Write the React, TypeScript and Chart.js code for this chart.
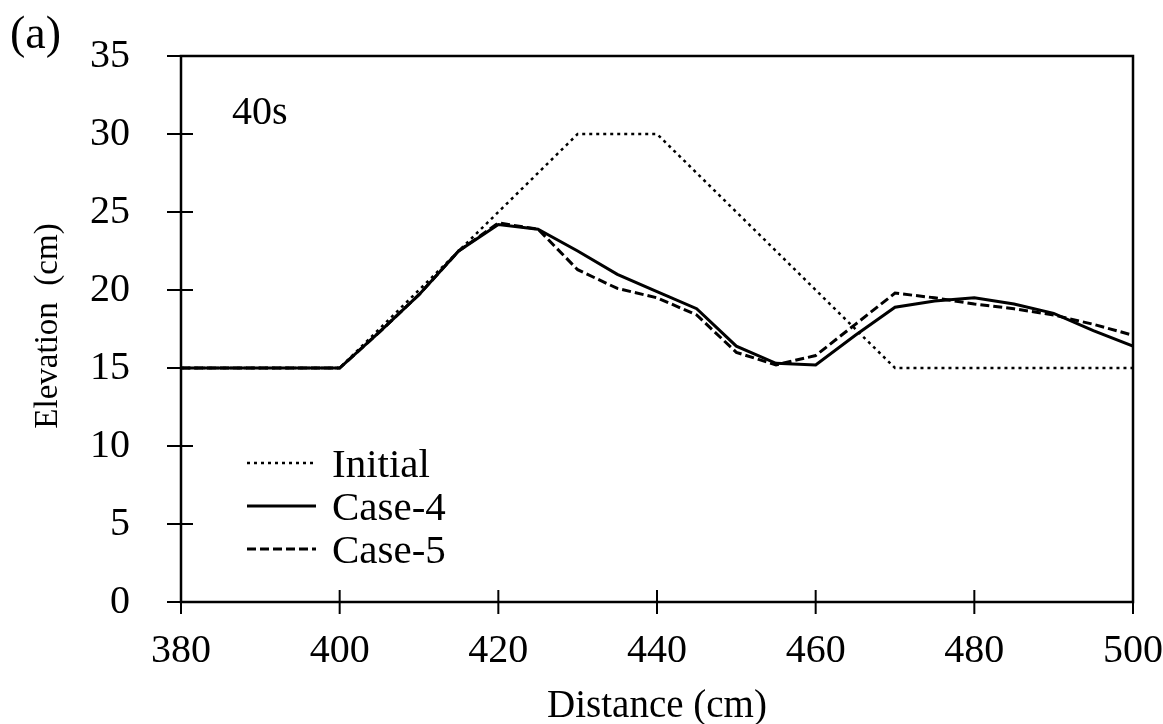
import { useEffect, useRef } from "react";
import { Chart, registerables } from "chart.js";

Chart.register(...registerables);

const FONT = '"Liberation Serif", "Times New Roman", serif';

const distance = [380, 400, 405, 410, 415, 420, 425, 430, 435, 440, 445, 450, 455, 460, 465, 470, 475, 480, 485, 490, 495, 500];
const case4 = [15, 15, 17.3, 19.7, 22.5, 24.2, 23.9, 22.5, 21.0, 19.9, 18.8, 16.4, 15.3, 15.2, 17.1, 18.9, 19.3, 19.5, 19.1, 18.5, 17.4, 16.4];
const case5 = [15, 15, 17.3, 19.7, 22.5, 24.3, 23.9, 21.3, 20.1, 19.5, 18.4, 16.0, 15.2, 15.8, 17.8, 19.8, 19.5, 19.1, 18.8, 18.4, 17.8, 17.1];
const initialDistance = [380, 400, 430, 440, 470, 500];
const initialElevation = [15, 15, 30, 30, 15, 15];

const xTicks = [380, 400, 420, 440, 460, 480, 500];
const yTicks = [0, 5, 10, 15, 20, 25, 30, 35];

const seriesNames = ["Initial", "Case-4", "Case-5"];
const panelLabel = "(a)";
const timeLabel = "40s";
const xTitle = "Distance (cm)";
const yTitle = "Elevation  (cm)";

const dotted = [3, 4];
const dashed = [9, 4];

const framePlugin = {
  id: "frame",
  afterDraw(chart: any) {
    const { ctx, chartArea, scales } = chart;
    const { left, right, top, bottom } = chartArea;
    ctx.save();
    ctx.strokeStyle = "#000";
    ctx.lineWidth = 2.5;
    ctx.strokeRect(left, top, right - left, bottom - top);
    ctx.lineWidth = 2;
    yTicks.forEach((v) => {
      const py = scales.y.getPixelForValue(v);
      ctx.beginPath();
      ctx.moveTo(left - 14, py);
      ctx.lineTo(left + 12, py);
      ctx.stroke();
    });
    xTicks.forEach((v) => {
      const px = scales.x.getPixelForValue(v);
      ctx.beginPath();
      ctx.moveTo(px, bottom - 12);
      ctx.lineTo(px, bottom + 12);
      ctx.stroke();
    });

    ctx.fillStyle = "#000";
    ctx.textBaseline = "alphabetic";
    ctx.font = `46px ${FONT}`;
    ctx.textAlign = "left";
    ctx.fillText(panelLabel, 10, 48);
    ctx.font = `40px ${FONT}`;
    ctx.fillText(timeLabel, 232, 124);
    ctx.font = `39px ${FONT}`;
    ctx.textAlign = "center";
    ctx.fillText(xTitle, (left + right) / 2, 717);
    ctx.save();
    ctx.translate(57, 326);
    ctx.rotate(-Math.PI / 2);
    ctx.font = `33px ${FONT}`;
    ctx.textAlign = "center";
    ctx.fillText(yTitle, 0, 0);
    ctx.restore();

    const rows = [
      { y: 477, dash: dotted, w: 2.5 },
      { y: 520, dash: [] as number[], w: 3 },
      { y: 563, dash: dashed, w: 3 },
    ];
    ctx.font = `41px ${FONT}`;
    ctx.textAlign = "left";
    rows.forEach((r, i) => {
      const ly = r.y - 14;
      ctx.save();
      ctx.lineWidth = r.w;
      ctx.setLineDash(r.dash);
      ctx.beginPath();
      ctx.moveTo(247, ly);
      ctx.lineTo(316, ly);
      ctx.stroke();
      ctx.restore();
      ctx.fillText(seriesNames[i], 332, r.y);
    });
    ctx.restore();
  },
};

export default function App() {
  const ref = useRef<HTMLCanvasElement | null>(null);
  useEffect(() => {
    if (!ref.current) return;
    const chart = new Chart(ref.current, {
      type: "line",
      data: {
        datasets: [
          {
            label: seriesNames[0],
            data: initialDistance.map((d, i) => ({ x: d, y: initialElevation[i] })),
            borderColor: "#000",
            borderWidth: 2.5,
            borderDash: dotted,
            pointRadius: 0,
            tension: 0,
            fill: false,
          },
          {
            label: seriesNames[1],
            data: distance.map((d, i) => ({ x: d, y: case4[i] })),
            borderColor: "#000",
            borderWidth: 3,
            pointRadius: 0,
            tension: 0,
            fill: false,
          },
          {
            label: seriesNames[2],
            data: distance.map((d, i) => ({ x: d, y: case5[i] })),
            borderColor: "#000",
            borderWidth: 3,
            borderDash: dashed,
            pointRadius: 0,
            tension: 0,
            fill: false,
          },
        ],
      },
      options: {
        responsive: false,
        maintainAspectRatio: false,
        animation: false,
        layout: { padding: { top: 56, right: 30, left: 0, bottom: 0 } },
        plugins: { legend: { display: false }, tooltip: { enabled: false } },
        scales: {
          x: {
            type: "linear",
            min: 380,
            max: 500,
            grid: { display: true, color: "rgba(0,0,0,0)", drawOnChartArea: false, drawTicks: true, tickLength: 25 },
            border: { display: false },
            ticks: { stepSize: 20, color: "#000", padding: 0, font: { family: FONT, size: 40 } },
            afterFit: (s: any) => {
              s.height = 122;
            },
          },
          y: {
            type: "linear",
            min: 0,
            max: 35,
            grid: { display: true, color: "rgba(0,0,0,0)", drawOnChartArea: false, drawTicks: true, tickLength: 51 },
            border: { display: false },
            ticks: { stepSize: 5, color: "#000", padding: 0, font: { family: FONT, size: 40 } },
            afterFit: (s: any) => {
              s.width = 181;
            },
          },
        },
      },
      plugins: [framePlugin],
    });
    return () => chart.destroy();
  }, []);
  return (
    <div style={{ position: "fixed", left: 0, top: 0, width: 1163, height: 724, background: "#fff" }}>
      <canvas ref={ref} width={1163} height={724} style={{ width: 1163, height: 724, display: "block" }} />
    </div>
  );
}
